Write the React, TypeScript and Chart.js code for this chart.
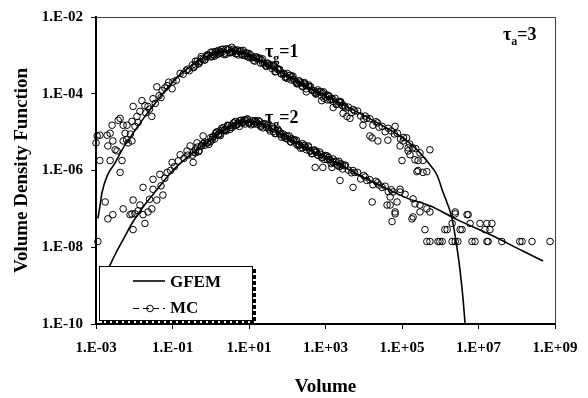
import React, { useEffect, useRef } from 'react';
import { Chart, registerables } from 'chart.js';

Chart.register(...registerables);

const SERIF = '"Liberation Serif", "Times New Roman", serif';

// Axis ticks (values are real volumes / densities)
const xTickValues = [1e-3, 1e-1, 1e1, 1e3, 1e5, 1e7, 1e9];
const xTickLabels = ['1.E-03', '1.E-01', '1.E+01', '1.E+03', '1.E+05', '1.E+07', '1.E+09'];
const yTickValues = [1e-10, 1e-8, 1e-6, 1e-4, 1e-2];
const yTickLabels = ['1.E-10', '1.E-08', '1.E-06', '1.E-04', '1.E-02'];

// Series, given as [log10(volume), log10(density)] pairs
const gfemTau1Log: [number, number][] = [
  [-2.95, -7.25], [-2.9, -6.95], [-2.84, -6.56], [-2.69, -6.1], [-2.5, -5.8], [-2.29, -5.41],
  [-2.03, -5.03], [-1.72, -4.59], [-1.4, -4.18], [-1.07, -3.78], [-0.8, -3.5], [-0.54, -3.3],
  [-0.15, -3.05], [0.24, -2.91], [0.56, -2.87], [0.9, -2.95], [1.47, -3.23], [2.33, -3.72],
  [3.04, -4.08], [3.72, -4.42], [4.61, -4.9], [5.13, -5.23], [5.47, -5.54], [5.73, -5.85],
  [5.92, -6.13], [6.07, -6.56], [6.31, -7.26], [6.44, -8.03], [6.52, -8.62], [6.6, -9.39], [6.65, -10.0],
];

const gfemTau2Log: [number, number][] = [
  [-2.8, -8.85], [-2.63, -8.46], [-2.48, -8.15], [-2.29, -7.8], [-2.03, -7.33], [-1.77, -6.95],
  [-1.4, -6.49], [-0.99, -6.0], [-0.54, -5.6], [-0.1, -5.27], [0.24, -5.03], [0.58, -4.82],
  [0.84, -4.74], [1.16, -4.74], [1.47, -4.85], [1.89, -5.08], [2.33, -5.33], [2.86, -5.59],
  [3.38, -5.85], [3.9, -6.13], [4.43, -6.39], [5.13, -6.72], [5.73, -6.92], [6.44, -7.28],
  [7.3, -7.67], [8.16, -8.1], [8.69, -8.36],
];

const mcTau1Log: [number, number][] = [
  [-3.0, -5.28], [-2.97, -5.1], [-2.9, -5.74], [-2.9, -5.08], [-2.71, -5.08], [-2.69, -5.36],
  [-2.63, -5.03], [-2.63, -5.74], [-2.58, -4.82], [-2.56, -5.23], [-2.5, -5.46], [-2.45, -5.49],
  [-2.42, -4.69], [-2.37, -4.64], [-2.37, -6.05], [-2.32, -5.74], [-2.29, -4.82], [-2.29, -5.23],
  [-2.24, -5.03], [-2.2, -5.2], [-2.19, -4.82], [-2.16, -5.28], [-2.1, -5.05], [-2.06, -5.23],
  [-2.06, -4.72], [-2.03, -4.33], [-1.98, -4.85], [-1.93, -4.59], [-1.9, -4.75], [-1.85, -4.46],
  [-1.8, -4.18], [-1.72, -4.31], [-1.7, -4.5], [-1.64, -4.33], [-1.6, -4.4], [-1.54, -4.59],
  [-1.51, -4.13], [-1.45, -4.25], [-1.41, -3.82], [-1.35, -4.05], [-1.3, -4.1], [-1.27, -3.92],
  [-1.2, -3.85], [-1.14, -3.79], [-1.1, -3.7], [-1.01, -3.87], [-0.99, -3.69], [-0.9, -3.65],
  [-0.8, -3.47], [-0.72, -3.49], [-0.64, -3.39], [-0.56, -3.4], [-0.48, -3.25], [-0.4, -3.25],
  [-0.32, -3.22], [-0.24, -3.08], [-0.16, -3.12], [-0.08, -2.99], [0.0, -2.92], [0.08, -2.98],
  [0.16, -2.98], [0.24, -2.89], [0.32, -2.84], [0.4, -2.97], [0.48, -2.83], [0.56, -2.91],
  [0.64, -2.87], [0.72, -2.99], [0.8, -2.88], [0.88, -2.96], [0.96, -3.03], [1.04, -2.99],
  [1.12, -3.13], [1.2, -3.08], [1.28, -3.07], [1.36, -3.2], [1.44, -3.27], [1.52, -3.25],
  [1.6, -3.25], [1.68, -3.43], [1.76, -3.35], [1.84, -3.48], [1.92, -3.47], [2.0, -3.6],
  [2.08, -3.52], [2.16, -3.62], [2.24, -3.7], [2.32, -3.67], [2.4, -3.82], [2.48, -3.77],
  [2.56, -3.77], [2.64, -3.9], [2.72, -3.97], [2.8, -3.95], [2.88, -3.95], [2.96, -4.12],
  [3.04, -4.03], [3.12, -4.16], [3.2, -4.15], [3.28, -4.28], [3.36, -4.2], [3.44, -4.3],
  [3.52, -4.37], [3.6, -4.35], [3.68, -4.49], [3.76, -4.45], [3.84, -4.45], [3.92, -4.58],
  [4.0, -4.66], [4.08, -4.64], [4.16, -4.65], [4.24, -4.82], [4.32, -4.73], [4.4, -4.87],
  [4.48, -4.85], [4.56, -4.99], [4.64, -4.9], [4.72, -4.97], [4.8, -5.05], [4.88, -5.03],
  [4.96, -5.18], [5.04, -5.14], [5.12, -5.15], [5.2, -5.31], [5.28, -5.41], [5.36, -5.43],
  [-0.6, -3.36], [-0.44, -3.3], [-0.28, -3.16], [-0.12, -3.03], [0.04, -3.03], [0.12, -2.9],
  [0.2, -2.96], [0.28, -2.85], [0.36, -2.94], [0.44, -2.86], [0.52, -2.93], [0.6, -2.84],
  [0.68, -2.95], [0.76, -2.88], [0.84, -3.0], [0.92, -2.93], [1.0, -3.06], [1.16, -3.04],
  [1.32, -3.12], [1.48, -3.2], [1.64, -3.29], [1.8, -3.38], [1.96, -3.55], [2.12, -3.56],
  [2.28, -3.74], [2.44, -3.73], [2.6, -3.82], [2.76, -3.99], [2.92, -3.98], [3.08, -4.05],
  [3.4, -4.23], [3.72, -4.41], [4.04, -4.58], [4.36, -4.76],
  [-0.45, -3.32], [-0.4, -3.15], [-0.35, -3.15], [-0.3, -3.2], [-0.25, -3.03], [-0.2, -3.1],
  [-0.15, -3.12], [-0.1, -2.99], [-0.05, -3.0], [0.0, -3.04], [0.05, -2.91], [0.1, -3.02],
  [0.15, -2.92], [0.2, -2.87], [0.25, -2.94], [0.3, -2.91], [0.35, -2.98], [0.4, -2.83],
  [0.45, -2.85], [0.5, -2.93], [0.55, -2.79], [0.6, -2.9], [0.65, -2.96], [0.7, -2.86],
  [0.75, -2.91], [0.8, -2.97], [0.85, -2.87], [0.9, -3.01], [0.95, -2.96], [1.0, -2.95],
  [1.05, -3.05], [1.1, -3.06], [1.15, -3.15], [1.2, -3.04], [1.25, -3.09], [1.3, -3.2],
  [1.35, -3.09], [1.4, -3.22], [1.45, -3.29], [1.5, -3.21], [1.55, -3.27], [1.6, -3.34],
  [1.65, -3.26], [1.7, -3.42], [1.75, -3.37], [1.8, -3.37], [1.85, -3.48], [1.9, -3.49],
  [1.95, -3.58], [2.0, -3.47], [2.05, -3.53], [2.1, -3.64], [2.15, -3.54], [2.2, -3.67],
  [2.25, -3.74], [2.3, -3.66], [2.35, -3.72], [2.4, -3.8], [2.45, -3.71], [2.5, -3.87],
  [2.55, -3.81], [2.6, -3.81], [2.65, -3.91], [2.7, -3.92], [2.75, -4.01], [2.8, -3.9],
  [2.85, -3.95], [2.9, -4.06], [2.95, -3.95], [3.0, -4.08], [3.05, -4.16], [3.1, -4.07],
  [3.15, -4.13], [3.2, -4.2], [3.25, -4.12], [3.3, -4.27], [3.35, -4.22], [3.4, -4.21],
  [3.45, -4.32], [3.5, -4.32],
  [2.5, -3.95], [2.9, -4.18], [3.2, -4.36], [3.46, -4.51], [3.56, -4.59], [3.64, -4.64],
  [3.98, -4.82], [4.16, -5.1], [4.22, -5.15], [4.37, -5.23], [4.63, -5.21], [4.82, -4.85],
  [4.95, -5.36], [5.0, -5.74], [5.03, -5.23], [5.16, -5.41], [5.16, -5.49], [5.21, -5.59],
  [5.34, -5.72], [5.39, -6.03], [5.42, -5.74], [5.42, -6.0], [5.47, -5.54], [5.55, -5.74],
  [5.55, -6.05], [5.65, -6.03], [5.73, -5.46],
];

const mcTau2Log: [number, number][] = [
  [-2.95, -7.85], [-2.76, -6.82], [-2.69, -7.26], [-2.56, -7.15], [-2.29, -7.0], [-2.11, -7.15],
  [-2.06, -7.13], [-2.03, -6.77], [-2.03, -7.54], [-1.98, -7.13], [-1.9, -7.05], [-1.85, -6.9],
  [-1.77, -6.44], [-1.77, -7.15], [-1.72, -7.38], [-1.64, -7.08], [-1.6, -6.75], [-1.54, -7.0],
  [-1.51, -6.49], [-1.51, -6.23], [-1.41, -6.77], [-1.33, -6.1], [-1.3, -6.4], [-1.25, -6.64],
  [-1.2, -6.2], [-1.14, -6.05], [-1.05, -6.0], [-1.01, -5.79], [-0.95, -5.9], [-0.85, -5.75],
  [-0.8, -5.59], [-0.7, -5.68], [-0.62, -5.49], [-0.6, -5.6], [-0.54, -5.36], [-0.46, -5.79],
  [-0.36, -5.28], [-0.2, -5.1],
  [-0.48, -5.6], [-0.4, -5.47], [-0.32, -5.51], [-0.24, -5.36], [-0.16, -5.26], [-0.08, -5.28],
  [0.0, -5.24], [0.08, -5.11], [0.16, -4.99], [0.24, -5.05], [0.32, -4.88], [0.4, -4.93],
  [0.48, -4.83], [0.56, -4.88], [0.64, -4.72], [0.72, -4.76], [0.8, -4.76], [0.88, -4.68],
  [0.96, -4.66], [1.04, -4.74], [1.12, -4.79], [1.2, -4.74], [1.28, -4.73], [1.36, -4.89],
  [1.44, -4.79], [1.52, -4.92], [1.6, -4.9], [1.68, -5.04], [1.76, -4.95], [1.84, -5.05],
  [1.92, -5.13], [2.0, -5.1], [2.08, -5.25], [2.16, -5.2], [2.24, -5.21], [2.32, -5.34],
  [2.4, -5.41], [2.48, -5.39], [2.56, -5.39], [2.64, -5.56], [2.72, -5.47], [2.8, -5.6],
  [2.88, -5.58], [2.96, -5.71], [3.04, -5.62], [3.12, -5.72], [3.2, -5.79], [3.28, -5.76],
  [3.36, -5.9], [3.44, -5.85], [3.52, -5.86], [3.6, -5.99], [3.68, -6.06], [3.76, -6.05],
  [3.84, -6.05], [3.92, -6.22], [4.0, -6.13], [4.08, -6.26], [4.16, -6.24], [4.24, -6.37],
  [4.32, -6.28], [4.4, -6.38], [4.48, -6.44], [4.56, -6.41], [4.64, -6.55], [4.72, -6.5],
  [0.04, -5.19], [0.12, -5.04], [0.2, -5.05], [0.28, -4.91], [0.36, -4.96], [0.44, -4.82],
  [0.52, -4.87], [0.6, -4.76], [0.68, -4.81], [0.76, -4.7], [0.84, -4.76], [0.92, -4.69],
  [1.0, -4.77], [1.16, -4.7], [1.32, -4.84], [1.48, -4.82], [1.64, -4.98], [1.8, -4.99],
  [1.96, -5.16], [2.12, -5.17], [2.28, -5.35], [2.44, -5.34], [2.6, -5.5], [2.76, -5.5],
  [2.92, -5.66], [3.08, -5.66], [3.4, -5.82], [3.72, -6.0], [4.04, -6.17], [4.36, -6.32],
  [-0.45, -5.52], [-0.4, -5.54], [-0.35, -5.39], [-0.3, -5.48], [-0.25, -5.36], [-0.2, -5.3],
  [-0.15, -5.34], [-0.1, -5.28], [-0.05, -5.32], [0.0, -5.14], [0.05, -5.13], [0.1, -5.18],
  [0.15, -5.01], [0.2, -5.08], [0.25, -5.09], [0.3, -4.95], [0.35, -4.95], [0.4, -4.97],
  [0.45, -4.83], [0.5, -4.93], [0.55, -4.82], [0.6, -4.76], [0.65, -4.83], [0.7, -4.79],
  [0.75, -4.85], [0.8, -4.69], [0.85, -4.71], [0.9, -4.79], [0.95, -4.66], [1.0, -4.76],
  [1.05, -4.81], [1.1, -4.7], [1.15, -4.73], [1.2, -4.79], [1.25, -4.7], [1.3, -4.85],
  [1.35, -4.79], [1.4, -4.78], [1.45, -4.87], [1.5, -4.88], [1.55, -4.97], [1.6, -4.86],
  [1.65, -4.92], [1.7, -5.03], [1.75, -4.92], [1.8, -5.05], [1.85, -5.13], [1.9, -5.05],
  [1.95, -5.1], [2.0, -5.18], [2.05, -5.1], [2.1, -5.26], [2.15, -5.21], [2.2, -5.21],
  [2.25, -5.32], [2.3, -5.32], [2.35, -5.42], [2.4, -5.3], [2.45, -5.36], [2.5, -5.46],
  [2.55, -5.36], [2.6, -5.48], [2.65, -5.56], [2.7, -5.47], [2.75, -5.53], [2.8, -5.6],
  [2.85, -5.52], [2.9, -5.67], [2.95, -5.62], [3.0, -5.61], [3.05, -5.72], [3.1, -5.72],
  [3.15, -5.82], [3.2, -5.7], [3.25, -5.76], [3.3, -5.86], [3.35, -5.76], [3.4, -5.88],
  [3.45, -5.96], [3.5, -5.88],
  [2.73, -5.92], [2.93, -5.92], [3.17, -5.92], [3.38, -6.26], [3.72, -6.44], [4.22, -6.82],
  [4.61, -6.9], [4.69, -6.69], [4.69, -6.9], [4.74, -7.33], [4.76, -6.56], [4.82, -7.08],
  [4.82, -7.13], [4.87, -6.82], [4.95, -6.49], [4.95, -6.56], [5.08, -6.62], [5.26, -7.26],
  [5.29, -7.21], [5.29, -6.74], [5.34, -6.87], [5.47, -6.9], [5.47, -7.08], [5.6, -7.54],
  [5.65, -7.0], [5.73, -7.08], [6.12, -7.54], [6.18, -7.54], [6.31, -7.38], [6.39, -7.13],
  [6.39, -7.08], [6.52, -7.54], [6.57, -7.54], [6.7, -7.15], [6.73, -7.15], [6.78, -7.38],
  [7.04, -7.38], [7.17, -7.54], [7.22, -7.38], [7.3, -7.54], [7.35, -7.38],
  [5.65, -7.85], [5.73, -7.85], [5.94, -7.85], [5.99, -7.85], [6.05, -7.85], [6.31, -7.85],
  [6.39, -7.85], [6.46, -7.85], [6.83, -7.85], [6.91, -7.85], [7.22, -7.85], [7.25, -7.85],
  [7.61, -7.85], [8.08, -7.85], [8.14, -7.85], [8.4, -7.85], [8.87, -7.85],
];

// Curve labels, anchored in log10 data coordinates
const curveLabelLogV = [1.42, 1.42, 7.64];
const curveLabelLogF = [-3.03, -4.77, -2.59];
const curveLabelSub = ['g', 'g', 'a'];
const curveLabelRest = ['=1', '=2', '=3'];

const legendLabels = ['GFEM', 'MC'];

const toPoints = (pairs: [number, number][]) => pairs.map(([lv, lf]) => ({ x: 10 ** lv, y: 10 ** lf }));

const findLabel = (values: number[], labels: string[], v: number) => {
  const i = values.findIndex((t) => Math.abs(Math.log10(t) - Math.log10(v)) < 1e-6);
  return i >= 0 ? labels[i] : '';
};

const decorPlugin = {
  id: 'decor',
  afterDraw(chart: any) {
    const { ctx, chartArea: a, scales } = chart;
    const xs = scales.x;
    const ys = scales.y;
    ctx.save();
    // thin top / right frame
    ctx.strokeStyle = '#3c3c3c';
    ctx.lineWidth = 1;
    ctx.beginPath();
    ctx.moveTo(a.left, a.top + 0.5);
    ctx.lineTo(a.right + 0.5, a.top + 0.5);
    ctx.lineTo(a.right + 0.5, a.bottom);
    ctx.stroke();

    // curve labels
    ctx.fillStyle = '#000';
    ctx.textAlign = 'left';
    ctx.textBaseline = 'alphabetic';
    for (let i = 0; i < curveLabelLogV.length; i++) {
      const x = xs.getPixelForValue(10 ** curveLabelLogV[i]);
      const y = ys.getPixelForValue(10 ** curveLabelLogF[i]);
      ctx.font = `bold 18px ${SERIF}`;
      ctx.fillText('τ', x, y);
      const w1 = ctx.measureText('τ').width;
      ctx.font = `bold 12px ${SERIF}`;
      ctx.fillText(curveLabelSub[i], x + w1, y + 5);
      const w2 = ctx.measureText(curveLabelSub[i]).width;
      ctx.font = `bold 18px ${SERIF}`;
      ctx.fillText(curveLabelRest[i], x + w1 + w2, y);
    }

    // legend box
    const lx = a.left + 3;
    const ly = a.bottom - 58;
    const lw = 153;
    const lh = 54;
    ctx.fillStyle = '#fff';
    ctx.fillRect(lx, ly, lw, lh);
    ctx.strokeStyle = '#000';
    ctx.lineWidth = 1;
    ctx.strokeRect(lx + 0.5, ly + 0.5, lw, lh);
    ctx.lineWidth = 3;
    ctx.setLineDash([4, 2]);
    ctx.beginPath();
    ctx.moveTo(lx + lw + 2.5, ly + 3);
    ctx.lineTo(lx + lw + 2.5, ly + lh + 2.5);
    ctx.lineTo(lx + 3, ly + lh + 2.5);
    ctx.stroke();
    ctx.setLineDash([]);

    // GFEM entry
    const y1 = ly + 15;
    ctx.lineWidth = 1.6;
    ctx.beginPath();
    ctx.moveTo(lx + 34, y1);
    ctx.lineTo(lx + 66, y1);
    ctx.stroke();
    // MC entry
    const y2 = ly + 42;
    ctx.lineWidth = 1;
    ctx.setLineDash([6, 4]);
    ctx.beginPath();
    ctx.moveTo(lx + 34, y2 + 0.5);
    ctx.lineTo(lx + 66, y2 + 0.5);
    ctx.stroke();
    ctx.setLineDash([]);
    ctx.beginPath();
    ctx.arc(lx + 51, y2 + 0.5, 3.3, 0, Math.PI * 2);
    ctx.stroke();

    ctx.fillStyle = '#000';
    ctx.font = `bold 17px ${SERIF}`;
    ctx.fillText(legendLabels[0], lx + 71, y1 + 6);
    ctx.fillText(legendLabels[1], lx + 71, y2 + 5);
    ctx.restore();
  },
};

export default function App() {
  const canvasRef = useRef<HTMLCanvasElement | null>(null);

  useEffect(() => {
    if (!canvasRef.current) return;
    const tickFont = { family: SERIF, size: 15, weight: 'bold' as const };
    const titleFont = { family: SERIF, size: 19, weight: 'bold' as const };
    const mcStyle = {
      showLine: false,
      pointRadius: 3.3,
      pointBorderWidth: 1,
      pointBorderColor: '#000',
      pointBackgroundColor: 'rgba(0,0,0,0)',
      clip: false,
    };
    const chart = new Chart(canvasRef.current, {
      type: 'scatter',
      data: {
        datasets: [
          {
            label: 'GFEM τg=1',
            data: toPoints(gfemTau1Log),
            showLine: true,
            borderColor: '#000',
            borderWidth: 1.6,
            pointRadius: 0,
            cubicInterpolationMode: 'monotone',
          },
          {
            label: 'GFEM τg=2',
            data: toPoints(gfemTau2Log),
            showLine: true,
            borderColor: '#000',
            borderWidth: 1.6,
            pointRadius: 0,
            cubicInterpolationMode: 'monotone',
          },
          { label: 'MC τg=1', data: toPoints(mcTau1Log), ...mcStyle },
          { label: 'MC τg=2', data: toPoints(mcTau2Log), ...mcStyle },
        ] as any,
      },
      options: {
        responsive: false,
        animation: false,
        layout: { padding: { left: 0, top: 12, right: 33, bottom: 0 } },
        plugins: { legend: { display: false }, tooltip: { enabled: false } },
        scales: {
          x: {
            type: 'logarithmic',
            position: 'bottom',
            min: 1e-3,
            max: 1e9,
            afterBuildTicks: (s: any) => {
              s.ticks = xTickValues.map((v) => ({ value: v }));
            },
            afterFit: (s: any) => {
              s.height = 74;
            },
            ticks: {
              autoSkip: false,
              maxRotation: 0,
              padding: 10,
              color: '#000',
              font: tickFont,
              callback: (v: any) => findLabel(xTickValues, xTickLabels, Number(v)),
            },
            grid: { drawOnChartArea: false, drawTicks: true, tickLength: 5, color: '#000', lineWidth: 1 },
            border: { display: true, color: '#000', width: 2 },
            title: { display: true, text: 'Volume', color: '#000', font: titleFont, padding: { top: 0, bottom: 0 } },
          },
          y: {
            type: 'logarithmic',
            position: 'left',
            min: 1e-10,
            max: 1e-2,
            afterBuildTicks: (s: any) => {
              s.ticks = yTickValues.map((v) => ({ value: v }));
            },
            afterFit: (s: any) => {
              s.width = 96;
            },
            ticks: {
              autoSkip: false,
              padding: 8,
              color: '#000',
              font: tickFont,
              callback: (v: any) => findLabel(yTickValues, yTickLabels, Number(v)),
            },
            grid: { drawOnChartArea: false, drawTicks: true, tickLength: 5, color: '#000', lineWidth: 1 },
            border: { display: true, color: '#000', width: 2 },
            title: {
              display: true,
              text: 'Volume Density Function',
              color: '#000',
              font: titleFont,
              padding: { top: 11, bottom: 0 },
            },
          },
        },
      } as any,
      plugins: [decorPlugin],
    });
    return () => chart.destroy();
  }, []);

  return (
    <div style={{ position: 'fixed', left: 0, top: 0, width: 588, height: 398, background: '#fff' }}>
      <canvas ref={canvasRef} width={588} height={398} style={{ display: 'block' }} />
    </div>
  );
}
